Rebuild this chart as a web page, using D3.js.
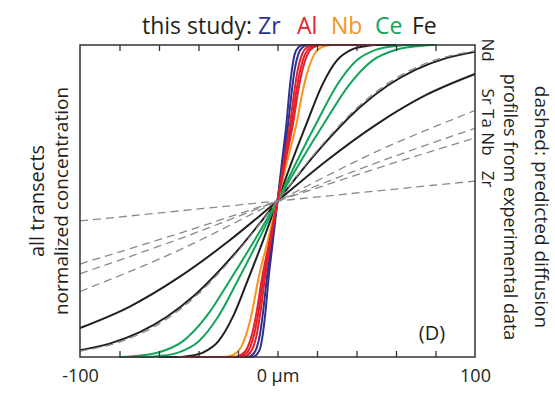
<!DOCTYPE html>
<html>
<head>
<meta charset="utf-8">
<script src="https://cdn.jsdelivr.net/npm/d3@7"></script>
<style>
    body { margin: 0; background: #fff; }
    #chart { width: 555px; height: 393px; }
    text { font-family: "Open Sans", "Noto Sans", sans-serif; fill: #231f20; }
</style>
</head>
<body>
<div id="chart"></div>
<script>
// solid curves: measured transects [distance µm, normalized concentration]
const zrA = [[-30,0],[-12.9,0],[-10.6,0.007],[-8.7,0.03],[-7.4,0.075],[-6,0.15],[-4.6,0.247],[-2.3,0.373],[0,0.5],[2.3,0.627],[4.6,0.753],[6,0.85],[7.4,0.925],[8.7,0.97],[10.6,0.993],[12.9,1],[30,1]];
const zrB = [[-35,0],[-15.4,0],[-12.7,0.007],[-10.5,0.03],[-8.8,0.075],[-7.2,0.15],[-5.5,0.247],[-2.8,0.373],[0,0.5],[2.8,0.627],[5.5,0.753],[7.2,0.85],[8.8,0.925],[10.5,0.97],[12.7,0.993],[15.4,1],[35,1]];
const alA = [[-45,0],[-18.2,0],[-15,0.007],[-12.4,0.03],[-10.4,0.075],[-8.5,0.15],[-6.5,0.247],[-3.3,0.373],[0,0.5],[3.3,0.627],[6.5,0.753],[8.5,0.85],[10.4,0.925],[12.4,0.97],[15,0.993],[18.2,1],[45,1]];
const alB = [[-48,0],[-20.4,0],[-16.8,0.007],[-13.9,0.03],[-11.7,0.075],[-9.5,0.15],[-7.3,0.247],[-3.7,0.373],[0,0.5],[3.7,0.627],[7.3,0.753],[9.5,0.85],[11.7,0.925],[13.9,0.97],[16.8,0.993],[20.4,1],[48,1]];
const alC = [[-50,0],[-22.4,0],[-18.4,0.007],[-15.2,0.03],[-12.8,0.075],[-10.4,0.15],[-8,0.247],[-4,0.373],[0,0.5],[4,0.627],[8,0.753],[10.4,0.85],[12.8,0.925],[15.2,0.97],[18.4,0.993],[22.4,1],[50,1]];
const nbA = [[-45,0],[-27.4,0],[-22.5,0.007],[-18.6,0.03],[-15.7,0.075],[-12.7,0.15],[-9.8,0.247],[-4.9,0.373],[0,0.5],[4.9,0.627],[9.8,0.753],[12.7,0.85],[15.7,0.925],[18.6,0.97],[22.5,0.993],[27.4,1],[45,1]];
const feA = [[-60,0],[-49.5,0],[-45,0.003],[-37.5,0.015],[-30,0.05],[-22.5,0.13],[-15,0.247],[-7.5,0.37],[0,0.5],[7.5,0.63],[15,0.753],[22.5,0.87],[30,0.95],[37.5,0.985],[45,0.997],[49.5,1],[60,1]];
const ceA = [[-80,0],[-66,0],[-60,0.003],[-50,0.015],[-40,0.05],[-30,0.13],[-20,0.247],[-10,0.37],[0,0.5],[10,0.63],[20,0.753],[30,0.87],[40,0.95],[50,0.985],[60,0.997],[66,1],[80,1]];
const ceB = [[-80,0],[-79,0],[-72,0.003],[-60,0.015],[-48,0.05],[-36,0.13],[-24,0.247],[-12,0.37],[0,0.5],[12,0.63],[24,0.753],[36,0.87],[48,0.95],[60,0.985],[72,0.997],[79,1],[80,1]];
const feB = [[-100,0.022],[-85,0.043],[-70,0.079],[-56,0.129],[-42,0.198],[-21,0.336],[0,0.5],[21,0.664],[42,0.802],[56,0.871],[70,0.921],[85,0.957],[100,0.978]];
const feC = [[-100,0.093],[-75,0.161],[-50,0.255],[-25,0.37],[0,0.5],[25,0.63],[50,0.745],[75,0.839],[100,0.907]];

// dashed: predicted profiles from experimental diffusivities
const ndPred = [[-100,0.019],[-80,0.048],[-60,0.106],[-40,0.203],[-20,0.339],[0,0.5],[20,0.661],[40,0.797],[60,0.894],[80,0.952],[100,0.981]];
const srPred = [[-100,0.21],[-50,0.342],[0,0.5],[50,0.658],[100,0.79]];
const taPred = [[-100,0.267],[-50,0.378],[0,0.5],[50,0.622],[100,0.733]];
const nbPred = [[-100,0.298],[-50,0.396],[0,0.5],[50,0.604],[100,0.702]];
const zrPred = [[-100,0.436],[0,0.5],[100,0.564]];

// element colours and title entries
const elements = ["Zr", "Al", "Nb", "Ce", "Fe"];
const elementColors = ["#2e3192", "#e3202a", "#f7941d", "#13a45a", "#231f20"];

// draw order (back to front)
const solidCurves = [
    [feC, "Fe"], [feB, "Fe"], [feA, "Fe"], [ceB, "Ce"], [ceA, "Ce"],
    [nbA, "Nb"], [zrB, "Zr"], [zrA, "Zr"], [alC, "Al"], [alB, "Al"], [alA, "Al"]
];
const dashedCurves = [ndPred, srPred, taPred, nbPred, zrPred];

const xTicks = [-80, -60, -40, -20, 0, 20, 40, 60, 80];
const xLabels = [[-100, "-100"], [0, "0 µm"], [100, "100"]];

class DiffusionChart {
    constructor() {
        this.width = 555;
        this.height = 393;
        this.left = 80;
        this.right = 475;
        this.top = 45;
        this.bottom = 357;
    }

    init() {
        this.svg = d3.select("#chart").append("svg")
            .attr("width", this.width)
            .attr("height", this.height);

        this.x = d3.scaleLinear().domain([-100, 100]).range([this.left, this.right]);
        this.y = d3.scaleLinear().domain([0, 1]).range([this.bottom, this.top]);
        this.color = d3.scaleOrdinal().domain(elements).range(elementColors);

        this.line = d3.line()
            .x((d) => this.x(d[0]))
            .y((d) => this.y(d[1]))
            .curve(d3.curveMonotoneX);
    }

    drawCurves() {
        this.svg.append("g").selectAll("path")
            .data(solidCurves)
            .enter()
            .append("path")
            .attr("d", (d) => this.line(d[0]))
            .attr("fill", "none")
            .attr("stroke", (d) => this.color(d[1]))
            .attr("stroke-width", 2);

        this.svg.append("g").selectAll("path")
            .data(dashedCurves)
            .enter()
            .append("path")
            .attr("d", this.line)
            .attr("fill", "none")
            .attr("stroke", "#8a8a8a")
            .attr("stroke-width", 1.3)
            .attr("stroke-dasharray", "8,5");
    }

    drawAxes() {
        // inward ticks top and bottom
        var bottomAxis = d3.axisBottom(this.x).tickValues(xTicks).tickSize(-6).tickFormat("");
        var topAxis = d3.axisTop(this.x).tickValues(xTicks).tickSize(-6).tickFormat("");
        var gb = this.svg.append("g").attr("transform", "translate(0," + this.bottom + ")").call(bottomAxis);
        var gt = this.svg.append("g").attr("transform", "translate(0," + this.top + ")").call(topAxis);
        [gb, gt].forEach((g) => {
            g.select(".domain").remove();
            g.selectAll("line").attr("stroke", "#333").attr("stroke-width", 1.3);
        });

        // tick labels
        var labelAxis = d3.axisBottom(this.x)
            .tickValues(xLabels.map((d) => d[0]))
            .tickSize(0)
            .tickPadding(12)
            .tickFormat((v) => xLabels.find((d) => d[0] == v)[1]);
        var gl = this.svg.append("g").attr("transform", "translate(0," + this.bottom + ")").call(labelAxis);
        gl.select(".domain").remove();
        gl.selectAll("text")
            .attr("font-family", "Open Sans, sans-serif")
            .attr("font-size", 18)
            .attr("fill", "#231f20");

        // frame
        this.svg.append("rect")
            .attr("x", this.left)
            .attr("y", this.top)
            .attr("width", this.right - this.left)
            .attr("height", this.bottom - this.top)
            .attr("fill", "none")
            .attr("stroke", "#333")
            .attr("stroke-width", 1.5);
    }

    drawText() {
        // title
        var title = [["this study:", 142, "#231f20"]];
        var pos = [258, 297, 331, 375, 412];
        elements.forEach((e, i) => title.push([e, pos[i], this.color(e)]));
        this.svg.selectAll(".title")
            .data(title)
            .enter()
            .append("text")
            .attr("class", "title")
            .attr("x", (d) => d[1])
            .attr("y", 34)
            .attr("font-size", 23)
            .style("fill", (d) => d[2])
            .text((d) => d[0]);

        // left labels
        var ly = (this.top + this.bottom) / 2;
        [["all transects", 44, 20], ["normalized concentration", 68, 19]].forEach((d) => {
            this.svg.append("text")
                .attr("transform", "translate(" + d[1] + "," + ly + ") rotate(-90)")
                .attr("text-anchor", "middle")
                .attr("font-size", d[2])
                .text(d[0]);
        });

        // right labels
        [["dashed: predicted diffusion", 535, 19], ["profiles from experimental data", 504, 18]].forEach((d) => {
            this.svg.append("text")
                .attr("transform", "translate(" + d[1] + "," + (ly + 6) + ") rotate(90)")
                .attr("text-anchor", "middle")
                .attr("font-size", d[2])
                .text(d[0]);
        });

        // element names of dashed profiles
        [["Nd", 50], ["Sr Ta Nb", 122], ["Zr", 179]].forEach((d) => {
            this.svg.append("text")
                .attr("transform", "translate(482," + d[1] + ") rotate(90)")
                .attr("text-anchor", "middle")
                .attr("font-size", 17)
                .text(d[0]);
        });

        this.svg.append("text")
            .attr("x", 432)
            .attr("y", 340)
            .attr("text-anchor", "middle")
            .attr("font-size", 20)
            .text("(D)");
    }
}

var chart = new DiffusionChart();
chart.init();
chart.drawCurves();
chart.drawAxes();
chart.drawText();
</script>
</body>
</html>
